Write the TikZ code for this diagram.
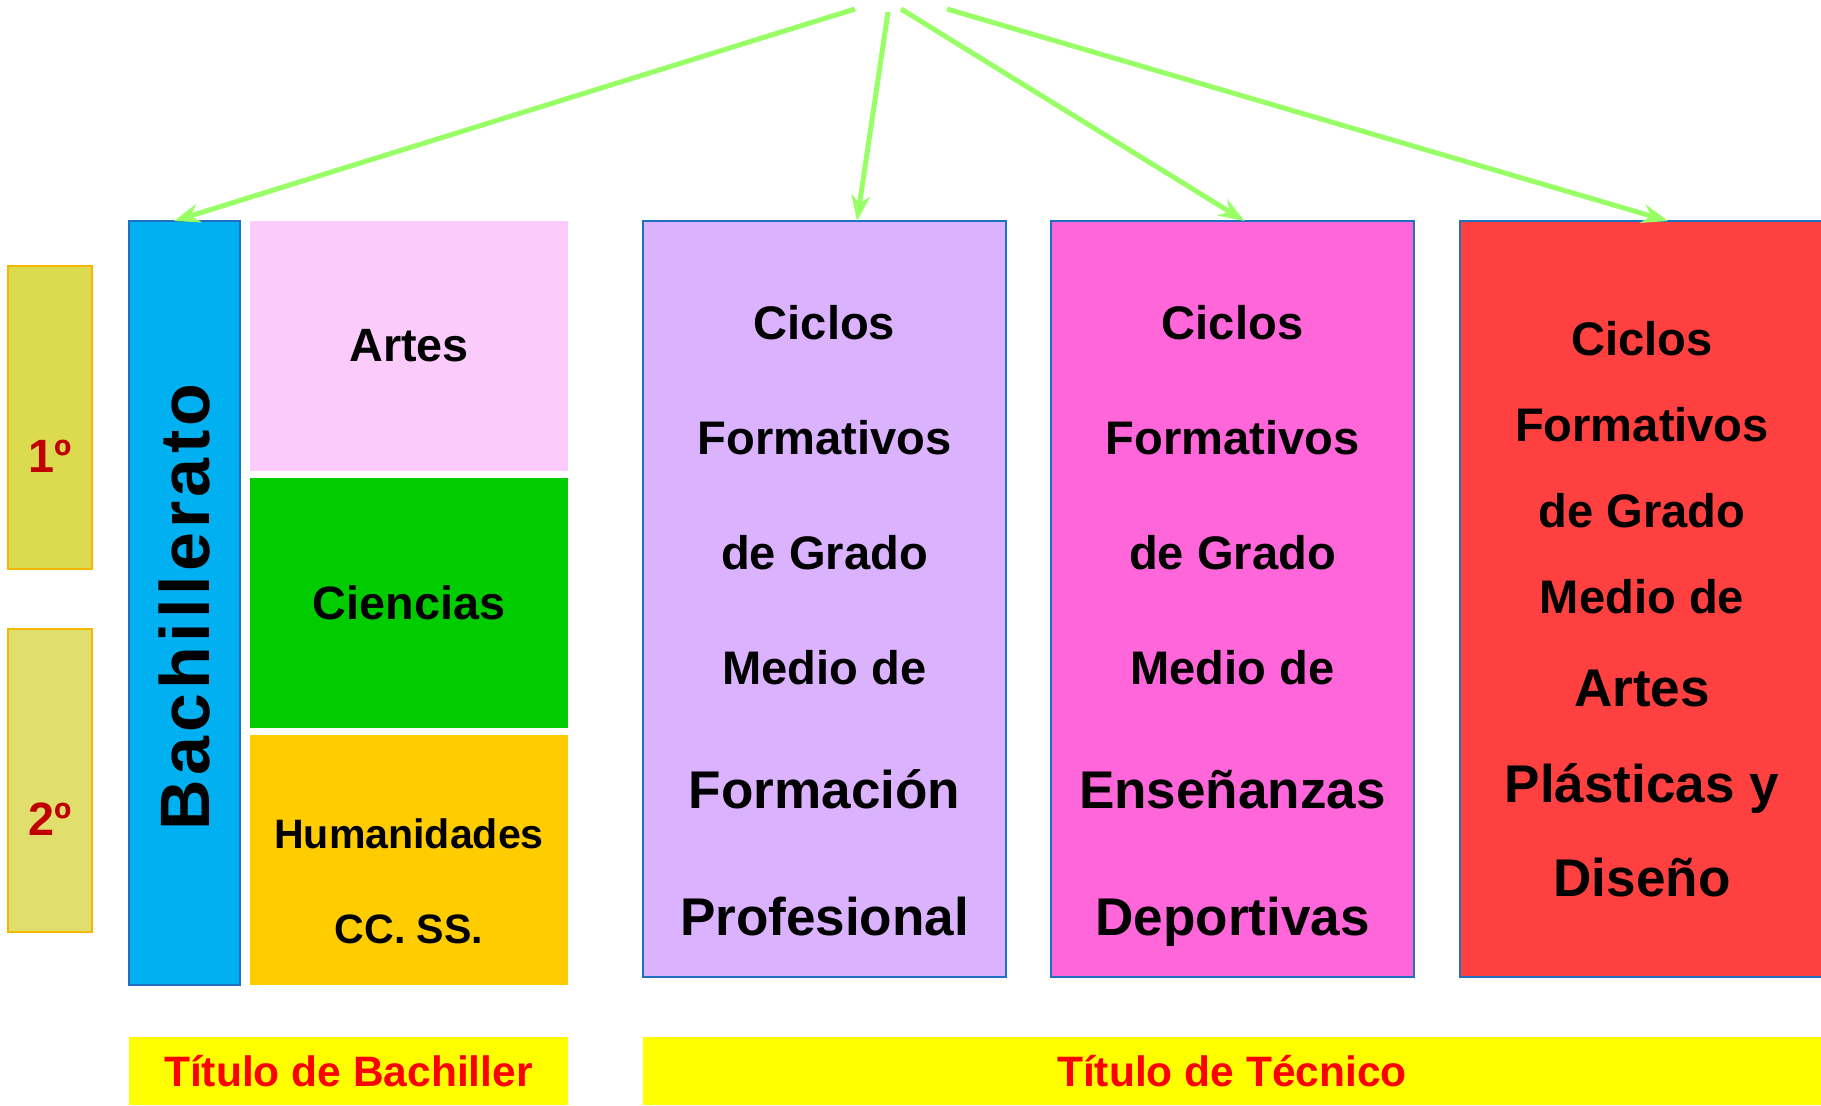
\documentclass[tikz,border=0pt]{standalone}
\usepackage{fontspec}
\setmainfont{Liberation Sans}
\usetikzlibrary{arrows.meta}
\definecolor{arrowgreen}{HTML}{99FF66}
\definecolor{boxblue}{HTML}{1F70C1}
\definecolor{yearorange}{HTML}{F5B800}
\definecolor{yearone}{HTML}{DCDB50}
\definecolor{yeartwo}{HTML}{E0DF6E}
\definecolor{yeartext}{HTML}{C00000}
\definecolor{bachblue}{HTML}{00B0F0}
\definecolor{artpink}{HTML}{FBCBFB}
\definecolor{scigreen}{HTML}{00CC00}
\definecolor{humgold}{HTML}{FFCC00}
\definecolor{fplav}{HTML}{DAB2FD}
\definecolor{depmag}{HTML}{FF66DA}
\definecolor{apdred}{HTML}{FF4040}
\definecolor{titleyellow}{HTML}{FFFF00}
\newcommand{\bigline}{\fontsize{15.1}{32.7}\selectfont}
\begin{document}
\begin{tikzpicture}[x=0.1mm,y=-0.1mm,
    box/.style={rectangle,inner sep=0pt,outer sep=0pt,anchor=north west},
    edged/.style={box,draw=boxblue,line width=0.15mm},
    yearbox/.style={box,draw=yearorange,line width=0.2mm,minimum width=8.4mm,minimum height=30.3mm},
    optbox/.style={box,minimum width=31.8mm,minimum height=25mm,font=\bfseries\fontsize{13.3}{16}\selectfont},
    cyclebox/.style={edged,minimum width=36.3mm,minimum height=75.6mm},
    titlebox/.style={box,fill=titleyellow,minimum height=6.8mm,text=red,font=\bfseries\fontsize{12.1}{14}\selectfont},
    yearlabel/.style={text=yeartext,font=\bfseries\fontsize{13.3}{15}\selectfont},
    cycletext/.style={align=center,font=\bfseries\fontsize{13.4}{32.7}\selectfont},
    link/.style={arrowgreen,line width=0.5mm,-{Stealth[length=2.6mm,width=1.9mm]}}]
    \useasboundingbox (0,0) rectangle (1821,1105);
    %% Years
    \node[yearbox,fill=yearone] (one) at (8,266) {};
    \node[yearbox,fill=yeartwo] (two) at (8,629) {};
    \node[yearlabel] (onetext) at ([yshift=-3.9mm]one.center) {1º};
    \node[yearlabel] (twotext) at ([yshift=-3.9mm]two.center) {2º};
    %% Bachillerato
    \node[edged,fill=bachblue,minimum width=11.1mm,minimum height=76.4mm] (bach) at (129,221) {};
    \node[rotate=90,font=\bfseries\fontsize{19.9}{24}\selectfont\addfontfeatures{LetterSpace=6}] (bachtext) at ([yshift=-0.4mm]bach.center) {Bachillerato};
    \node[optbox,fill=artpink] (artes) at (250,221) {Artes};
    \node[optbox,fill=scigreen] (ciencias) at (250,478) {Ciencias};
    \node[optbox,fill=humgold] (human) at (250,735) {};
    \node[align=center,font=\bfseries\fontsize{11.7}{27}\selectfont] (humantext) at ([yshift=-2.1mm]human.center) {Humanidades\\CC. SS.};
    %% Ciclos
    \node[cyclebox,fill=fplav] (fp) at (643,221) {};
    \node[cyclebox,fill=depmag] (dep) at (1051,221) {};
    \node[cyclebox,fill=apdred,minimum width=37mm] (apd) at (1460,221) {};
    \node[cycletext] (fptext) at ([yshift=-2.2mm]fp.center) {Ciclos\\Formativos\\de Grado\\Medio de\\[2.5pt]{\bigline Formación}\\[3.5pt]{\bigline Profesional}};
    \node[cycletext] (deptext) at ([yshift=-2.7mm]dep.center) {Ciclos\\Formativos\\de Grado\\Medio de\\[2.5pt]{\bigline Enseñanzas}\\[3.5pt]{\bigline Deportivas}};
    \node[cycletext,font=\bfseries\fontsize{13.4}{24.5}\selectfont] (apdtext) at ([xshift=-0.3mm,yshift=-1mm]apd.center) {Ciclos\\Formativos\\de Grado\\Medio de\\[2pt]{\bigline Artes}\\[2.8pt]{\bigline Plásticas y}\\[2.3pt]{\bigline Diseño}};
    %% Titles
    \node[titlebox,minimum width=43.9mm] (tbach) at (129,1037) {Título de Bachiller};
    \node[titlebox,minimum width=117.8mm] (ttec) at (643,1037) {Título de Técnico};
    %% Arrows
    \coordinate (s1) at (855,9);
    \coordinate (s2) at (888,12);
    \coordinate (s3) at (901,9);
    \coordinate (s4) at (947,9);
    \draw[link] (s1) -- ([xshift=-1.05mm]bach.north);
    \draw[link] (s2) -- ([xshift=3.25mm]fp.north);
    \draw[link] (s3) -- ([xshift=1.2mm]dep.north);
    \draw[link] (s4) -- ([xshift=2.3mm]apd.north);
\end{tikzpicture}
\end{document}
